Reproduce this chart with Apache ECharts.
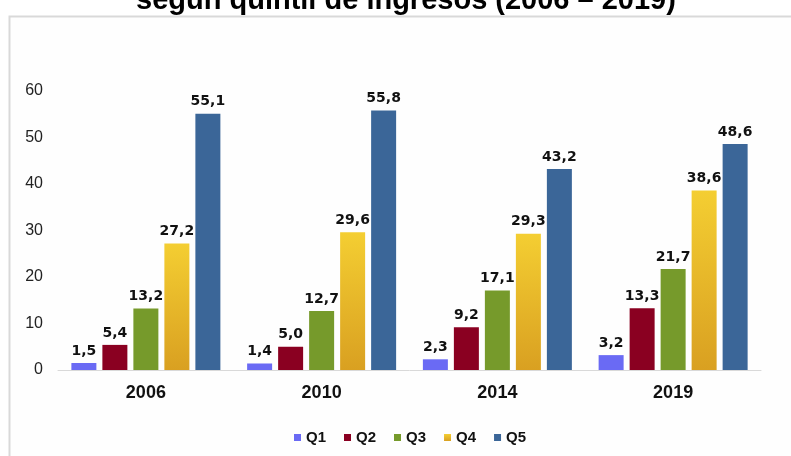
<!DOCTYPE html>
<html>
<head>
<meta charset="utf-8">
<script src="https://cdn.jsdelivr.net/npm/echarts@6/dist/echarts.min.js"></script>
<style>
  html, body { margin: 0; padding: 0; background: #fff; }
  #myChart { width: 791px; height: 456px; }
</style>
</head>
<body>
<div id="myChart"></div>
<script>
// data
const years = ["2006", "2010", "2014", "2019"];
const q1 = [1.5, 1.4, 2.3, 3.2];
const q2 = [5.4, 5.0, 9.2, 13.3];
const q3 = [13.2, 12.7, 17.1, 21.7];
const q4 = [27.2, 29.6, 29.3, 38.6];
const q5 = [55.1, 55.8, 43.2, 48.6];
const yTicks = [0, 10, 20, 30, 40, 50, 60];

const chart = echarts.init(document.getElementById("myChart"));

function barSeries(name, data, color) {
  return {
    name: name,
    type: "bar",
    barWidth: 25,
    barGap: "24%",
    data: data,
    itemStyle: { color: color },
    label: {
      show: true,
      position: "top",
      distance: 5,
      fontFamily: "DejaVu Sans",
      fontWeight: "bold",
      fontSize: 14,
      color: "#111",
      formatter: p => p.value.toFixed(1).replace(".", ",")
    }
  };
}

chart.setOption({
  animation: false,
  backgroundColor: "#fff",
  textStyle: { fontFamily: "Liberation Sans" },
  title: {
    text: "según quintil de ingresos (2006 – 2019)",
    left: 131,
    top: -19,
    textStyle: { fontSize: 29, fontWeight: "bold", color: "#000", fontFamily: "Liberation Sans" }
  },
  graphic: [{
    type: "rect",
    z: -1,
    shape: { x: 9.5, y: 16.5, width: 800, height: 500 },
    style: { fill: "#fefefe", stroke: "#d9d9d9", lineWidth: 2 }
  }],
  legend: {
    top: 425,
    left: 289,
    itemWidth: 7,
    itemHeight: 7,
    itemGap: 18,
    icon: "rect",
    textStyle: { fontSize: 15, fontWeight: "bold", color: "#111", fontFamily: "Liberation Sans" },
    data: ["Q1", "Q2", "Q3", "Q4", "Q5"]
  },
  grid: { left: 58, right: 30, top: 91, bottom: 86 },
  xAxis: {
    type: "category",
    data: years,
    axisLine: { lineStyle: { color: "#d9d9d9", width: 1 } },
    axisTick: { show: false },
    axisLabel: { fontSize: 18, fontWeight: "bold", color: "#111", margin: 14 }
  },
  yAxis: {
    type: "value",
    min: yTicks[0],
    max: yTicks[yTicks.length - 1],
    interval: 10,
    splitLine: { show: false },
    axisLine: { show: false },
    axisTick: { show: false },
    axisLabel: { fontSize: 16, color: "#222", margin: 15 }
  },
  series: [
    barSeries("Q1", q1, "#6a6af4"),
    barSeries("Q2", q2, "#8a0021"),
    barSeries("Q3", q3, "#769a2b"),
    barSeries("Q4", q4, new echarts.graphic.LinearGradient(0, 0, 0, 1, [
      { offset: 0, color: "#f4ce32" },
      { offset: 1, color: "#d9a021" }
    ])),
    barSeries("Q5", q5, "#3b6698")
  ]
});
</script>
</body>
</html>
